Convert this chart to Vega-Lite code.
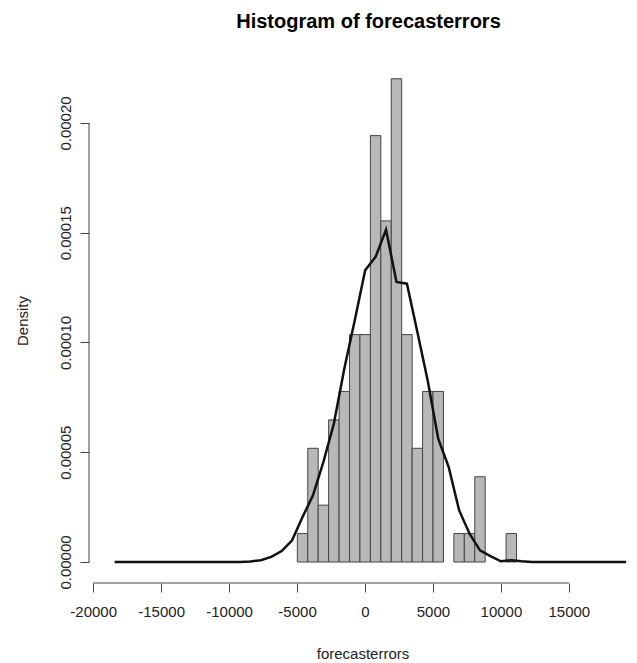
{
  "$schema": "https://vega.github.io/schema/vega-lite/v6.json",
  "autosize": {"type": "none"},
  "width": 547,
  "height": 525,
  "padding": {"left": 89, "top": 58, "right": 1, "bottom": 80},
  "background": "white",
  "title": {
    "text": "Histogram of forecasterrors",
    "font": "Liberation Sans",
    "fontSize": 20,
    "fontWeight": "bold",
    "color": "#000000",
    "anchor": "middle",
    "baseline": "alphabetic",
    "offset": 10,
    "dx": 6
  },
  "config": {
    "view": {"stroke": null},
    "axis": {"grid": false, "labelFont": "Liberation Sans", "titleFont": "Liberation Sans", "labelColor": "#222222", "titleColor": "#222222", "tickColor": "#444444", "tickWidth": 1}
  },
  "datasets": {
    "bins": [
      {"start": -4980, "end": -4212, "density": 0.00001295},
      {"start": -4212, "end": -3444, "density": 0.0000518},
      {"start": -3444, "end": -2676, "density": 0.0000259},
      {"start": -2676, "end": -1908, "density": 0.00006475},
      {"start": -1908, "end": -1140, "density": 0.0000777},
      {"start": -1140, "end": -372, "density": 0.0001036},
      {"start": -372, "end": 396, "density": 0.0001036},
      {"start": 396, "end": 1164, "density": 0.00019425},
      {"start": 1164, "end": 1932, "density": 0.0001554},
      {"start": 1932, "end": 2700, "density": 0.00022015},
      {"start": 2700, "end": 3468, "density": 0.0001036},
      {"start": 3468, "end": 4236, "density": 0.0000518},
      {"start": 4236, "end": 5004, "density": 0.0000777},
      {"start": 5004, "end": 5772, "density": 0.0000777},
      {"start": 6540, "end": 7308, "density": 0.00001295},
      {"start": 7308, "end": 8076, "density": 0.00001295},
      {"start": 8076, "end": 8844, "density": 0.00003885},
      {"start": 10380, "end": 11148, "density": 0.00001295}
    ],
    "curve": [
      {"mid": -18420, "density": 0},
      {"mid": -17652, "density": 0},
      {"mid": -16884, "density": 0},
      {"mid": -16116, "density": 0},
      {"mid": -15348, "density": 0},
      {"mid": -14580, "density": 0},
      {"mid": -13812, "density": 0},
      {"mid": -13044, "density": 0},
      {"mid": -12276, "density": 0},
      {"mid": -11508, "density": 0},
      {"mid": -10740, "density": 0},
      {"mid": -9972, "density": 0},
      {"mid": -9204, "density": 0},
      {"mid": -8436, "density": 0.0000002},
      {"mid": -7668, "density": 0.0000008},
      {"mid": -6900, "density": 0.0000023},
      {"mid": -6132, "density": 0.000005},
      {"mid": -5364, "density": 0.0000099},
      {"mid": -4596, "density": 0.0000205},
      {"mid": -3828, "density": 0.0000304},
      {"mid": -3060, "density": 0.0000456},
      {"mid": -2292, "density": 0.000063},
      {"mid": -1524, "density": 0.000088},
      {"mid": -756, "density": 0.00011},
      {"mid": 12, "density": 0.0001329},
      {"mid": 780, "density": 0.000139},
      {"mid": 1548, "density": 0.0001514},
      {"mid": 2316, "density": 0.0001276},
      {"mid": 3084, "density": 0.0001268},
      {"mid": 3852, "density": 0.0001048},
      {"mid": 4620, "density": 0.0000825},
      {"mid": 5388, "density": 0.0000562},
      {"mid": 6156, "density": 0.0000433},
      {"mid": 6924, "density": 0.0000236},
      {"mid": 7692, "density": 0.0000129},
      {"mid": 8460, "density": 0.0000053},
      {"mid": 9228, "density": 0.0000027},
      {"mid": 9996, "density": 0.0000003},
      {"mid": 10764, "density": 0.0000008},
      {"mid": 11532, "density": 0.0000003},
      {"mid": 12300, "density": 0},
      {"mid": 13068, "density": 0},
      {"mid": 13836, "density": 0},
      {"mid": 14604, "density": 0},
      {"mid": 15372, "density": 0},
      {"mid": 16140, "density": 0},
      {"mid": 16908, "density": 0},
      {"mid": 17676, "density": 0},
      {"mid": 18444, "density": 0},
      {"mid": 19212, "density": 0}
    ]
  },
  "layer": [
    {
      "data": {"name": "bins"},
      "mark": {"type": "rect", "fill": "#b8b8b8", "stroke": "#444444", "strokeWidth": 1},
      "encoding": {
        "x": {
          "field": "start",
          "type": "quantitative",
          "scale": {"domain": [-20308, 19940], "nice": false, "zero": false},
          "axis": {
            "values": [-20000, -15000, -10000, -5000, 0, 5000, 10000, 15000],
            "labelExpr": "'' + datum.value",
            "domain": false,
            "tickSize": 9,
            "labelFontSize": 15,
            "labelPadding": 12,
            "labelFlush": false,
            "labelOverlap": false,
            "title": "forecasterrors",
            "titleFontSize": 15,
            "titleFontWeight": "normal",
            "titlePadding": 27
          }
        },
        "x2": {"field": "end"},
        "y": {
          "field": "density",
          "type": "quantitative",
          "scale": {"domain": [-0.000009567, 0.00022961], "nice": false, "zero": false},
          "axis": {
            "values": [0, 0.00005, 0.0001, 0.00015, 0.0002],
            "format": ".5f",
            "domain": false,
            "tickSize": 9,
            "labelFontSize": 15,
            "labelAngle": -90,
            "labelAlign": "center",
            "labelBaseline": "alphabetic",
            "labelPadding": 10,
            "labelOverlap": false,
            "title": "Density",
            "titleFontSize": 15,
            "titleFontWeight": "normal",
            "titlePadding": 28
          }
        },
        "y2": {"datum": 0}
      }
    },
    {
      "data": {"name": "curve"},
      "mark": {"type": "line", "color": "#111111", "strokeWidth": 2.5},
      "encoding": {
        "x": {"field": "mid", "type": "quantitative"},
        "y": {"field": "density", "type": "quantitative"}
      }
    },
    {
      "data": {"values": [{}]},
      "mark": {"type": "rule", "color": "#444444", "strokeWidth": 1},
      "encoding": {
        "x": {"datum": -20000},
        "x2": {"datum": 15000},
        "y": {"value": "height"}
      }
    },
    {
      "data": {"values": [{}]},
      "mark": {"type": "rule", "color": "#444444", "strokeWidth": 1},
      "encoding": {
        "x": {"datum": -20308},
        "y": {"datum": 0},
        "y2": {"datum": 0.0002}
      }
    }
  ]
}
